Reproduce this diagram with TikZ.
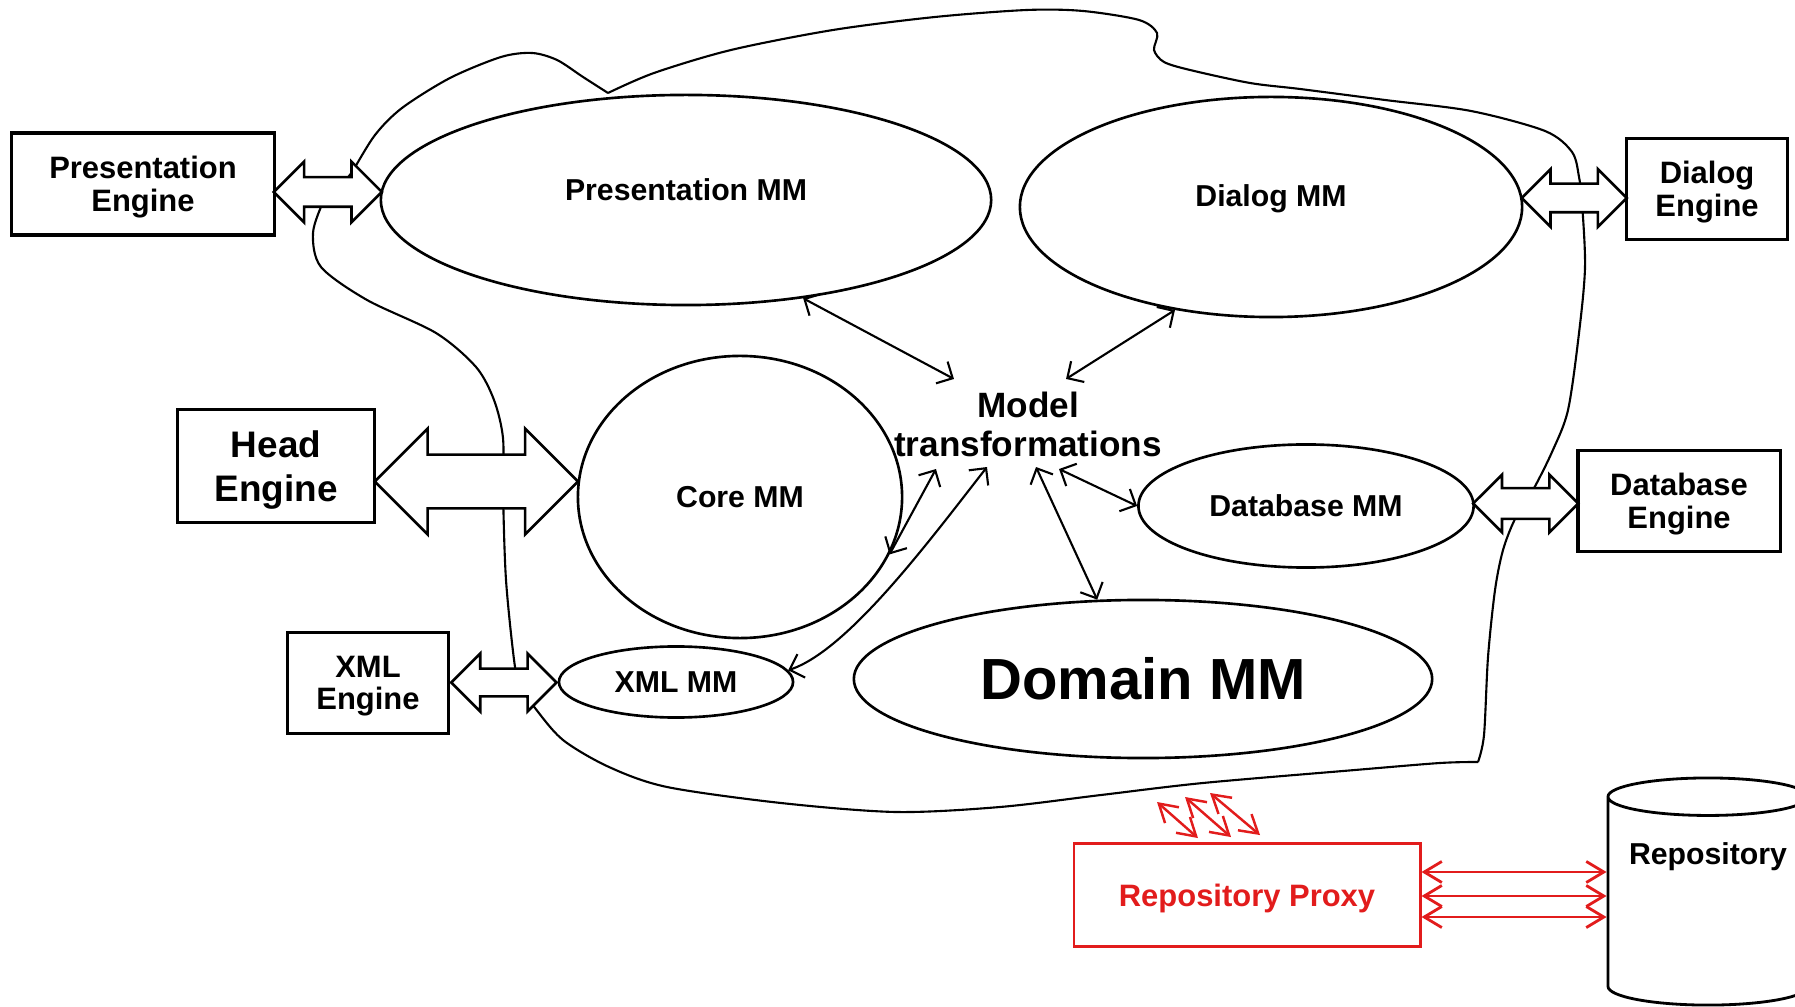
\documentclass[tikz,border=0pt]{standalone}
\usepackage{fontspec}
\setmainfont{Liberation Sans}
\usepackage{tikz}
\usetikzlibrary{shapes, arrows.meta, calc, positioning}
\usepackage{xcolor}
\definecolor{proxyred}{RGB}{226,28,28}

\begin{document}
\begin{tikzpicture}[x=0.01cm, y=-0.01cm,
            engine/.style={draw, line width=0.9pt, inner sep=0pt, align=center, text depth=0pt,
                font=\bfseries\fontsize{8.8}{9.3}\selectfont},
            metamodel/.style={ellipse, draw, line width=0.75pt, inner sep=0pt,
                font=\bfseries\fontsize{8.6}{10}\selectfont},
            dblarrow/.style={double arrow, draw, fill=white, line width=0.75pt,
                inner xsep=0pt, minimum width=0pt},
            transform/.style={line width=0.6pt,
                {Straight Barb[length=3.5pt,width=7pt]}-{Straight Barb[length=3.5pt,width=7pt]}},
            proxyarrow/.style={proxyred, line width=0.8pt,
                {Straight Barb[length=5pt,width=6pt]}-{Straight Barb[length=5pt,width=6pt]}},
            border/.style={line width=0.6pt}]

            \useasboundingbox (0,0) rectangle (1795,1007);

            % the loop round all the metamodels
            \draw[border]
                plot[smooth] coordinates {(345,180) (352,172) (375,135) (402,108) (450,78)
                    (501,57) (532,53) (557,60) (583,77) (608,93)}
                plot[smooth] coordinates {(608,93) (654,73) (731,50) (833,30) (935,17)
                    (1027,10) (1083,11) (1139,20) (1157,33) (1154,50) (1164,62) (1190,70)
                    (1250,83) (1300,89) (1385,100) (1471,111) (1545,131) (1572,152)
                    (1579,177) (1582,203) (1585,267) (1579,333) (1568,410) (1552,452)
                    (1533,490) (1515,519) (1503,550) (1495,590) (1488,657) (1484,735)
                    (1478,762)}
                plot[smooth] coordinates {(1478,762) (1440,763) (1355,770) (1203,783)
                    (1101,795) (1000,807) (896,812) (781,803) (667,787) (609,767)
                    (563,740) (535,708) (522,688) (515,667) (506,580) (503,490) (503,438)
                    (494,400) (476,367) (436,333) (367,300) (321,267) (313,233) (324,200)
                    (332,190)};
            \coordinate (c1) at (1157,802);
            \coordinate (c2) at (1185,797);
            \coordinate (c3) at (1210,793);

            \node[engine, minimum width=2.63cm, minimum height=1.02cm] (pe) at (143,184) {Presentation\\Engine};
            \node[metamodel, minimum width=6.1cm, minimum height=2.1cm, text depth=0.2cm] (pmm) at (686,200) {Presentation MM};
            \node[metamodel, minimum width=5.02cm, minimum height=2.2cm, text depth=0.22cm] (dmm) at (1271,207) {Dialog MM};
            \node[engine, minimum width=1.61cm, minimum height=1.01cm] (de) at (1707,189) {Dialog\\Engine};
            \node[engine, minimum width=1.97cm, minimum height=1.13cm,
                font=\bfseries\fontsize{10.5}{12.5}\selectfont] (he) at (276,466) {Head\\Engine};
            \node[metamodel, minimum width=3.24cm, minimum height=2.82cm] (core) at (740,497) {Core MM};
            \node[font=\bfseries\fontsize{10}{11.1}\selectfont, align=center, inner sep=0pt] (model) at (1028,424) {Model\\transformations};
            \node[metamodel, minimum width=3.35cm, minimum height=1.23cm] (dbmm) at (1306,506) {Database MM};
            \node[engine, minimum width=2.02cm, minimum height=1.01cm] (dbe) at (1679,501) {Database\\Engine};
            \node[engine, minimum width=1.61cm, minimum height=1.01cm] (xe) at (368,683) {XML\\Engine};
            \node[metamodel, minimum width=2.34cm, minimum height=0.71cm] (xmm) at (676,682) {XML MM};
            \node[metamodel, minimum width=5.78cm, minimum height=1.58cm,
                font=\bfseries\fontsize{16.5}{19}\selectfont] (dom) at (1143,679) {Domain MM};
            \node[engine, draw=proxyred, text=proxyred, line width=0.8pt, minimum width=3.46cm,
                minimum height=1.03cm] (proxy) at (1247,895) {Repository Proxy};
            \node[cylinder, shape border rotate=90, draw, line width=0.8pt, aspect=1.6,
                minimum width=2cm, minimum height=2.27cm,
                label={[yshift=0.49cm, font=\bfseries\fontsize{8.6}{10}\selectfont]center:Repository}] (repo) at (1708,906) {};

            % engine <-> metamodel
            \node[dblarrow, minimum height=1.08cm, inner ysep=0.135cm, double arrow head extend=0.155cm]
                (pa) at ($(pe.east)!0.5!(pmm.west)$) {};
            \node[dblarrow, minimum height=1.05cm, inner ysep=0.13cm, double arrow head extend=0.145cm]
                (da) at ($(dmm.east)!0.5!(de.west)$) {};
            \node[dblarrow, minimum height=2.03cm, inner ysep=0.255cm, double arrow head extend=0.26cm]
                (ha) at ($(he.east)!0.5!(core.west)$) {};
            \node[dblarrow, minimum height=1.05cm, inner ysep=0.14cm, double arrow head extend=0.135cm]
                (dba) at ($(dbmm.east)!0.5!(dbe.west)$) {};
            \node[dblarrow, minimum height=1.05cm, inner ysep=0.125cm, double arrow head extend=0.15cm]
                (xa) at ($(xe.east)!0.5!(xmm.west)$) {};

            % transformations
            \draw[transform] (pmm.-40) -- ([xshift=-0.74cm, yshift=0.45cm]model.center);
            \draw[transform] (dmm.-133) -- ([xshift=0.38cm, yshift=0.45cm]model.center);
            \draw[transform] (core.-21) -- ([xshift=-0.92cm, yshift=-0.45cm]model.center);
            \draw[transform] ([xshift=-0.41cm, yshift=-0.43cm]model.center)
                .. controls +(-57,73) and +(60,-20) .. (xmm.6);
            \draw[transform] ([xshift=0.08cm, yshift=-0.43cm]model.center) -- (dom.120);
            \draw[transform] ([xshift=0.31cm, yshift=-0.45cm]model.center) -- (dbmm.west);

            % repository
            \draw[proxyarrow, line width=0.7pt] (c1) -- ([xshift=-0.49cm, yshift=0.04cm]proxy.north);
            \draw[proxyarrow, line width=0.7pt] (c2) -- ([xshift=-0.16cm, yshift=0.05cm]proxy.north);
            \draw[proxyarrow, line width=0.7pt] (c3) -- ([xshift=0.13cm, yshift=0.07cm]proxy.north);
            \draw[proxyarrow] ([yshift=0.23cm]proxy.east) -- ([yshift=0.23cm]proxy.east -| repo.west);
            \draw[proxyarrow] ([yshift=-0.01cm]proxy.east) -- ([yshift=-0.01cm]proxy.east -| repo.west);
            \draw[proxyarrow] ([yshift=-0.22cm]proxy.east) -- ([yshift=-0.22cm]proxy.east -| repo.west);
\end{tikzpicture}
\end{document}
